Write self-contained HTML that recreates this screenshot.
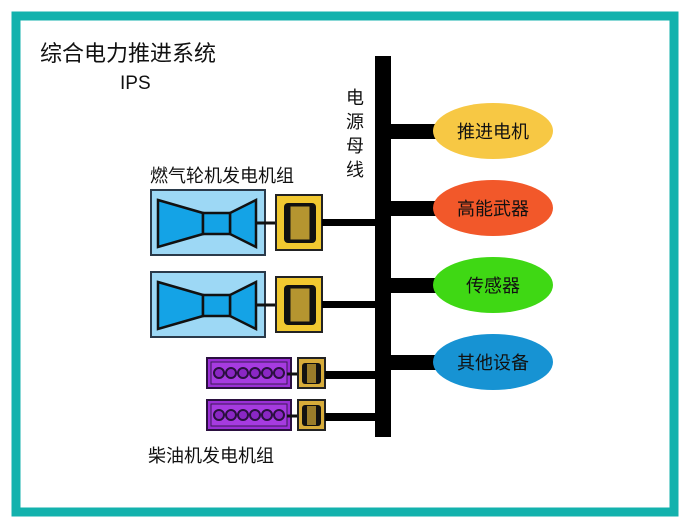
<!DOCTYPE html>
<html><head><meta charset="utf-8"><style>
html,body{margin:0;padding:0;background:#fff;}
svg{display:block;}
text{font-family:"Liberation Sans","Noto Sans CJK SC",sans-serif;}
</style></head><body>
<svg width="690" height="528" viewBox="0 0 690 528">
<rect x="0" y="0" width="690" height="528" fill="#fff"/>
<rect x="16" y="16" width="658" height="496" fill="#fff" stroke="#13b2ad" stroke-width="9"/>
<text x="40" y="61" font-size="22" fill="#111">综合电力推进系统</text>
<text x="120" y="89" font-size="19" fill="#111">IPS</text>
<g font-size="18" fill="#111">
<text x="346" y="104">电</text><text x="346" y="128">源</text><text x="346" y="152">母</text><text x="346" y="176">线</text>
</g>
<text x="150" y="182" font-size="18" fill="#111">燃气轮机发电机组</text>
<text x="148" y="462" font-size="18" fill="#111">柴油机发电机组</text>
<!-- bus -->
<rect x="375" y="56" width="16" height="381" fill="#000"/>
<rect x="391" y="124" width="52" height="15" fill="#000"/>
<rect x="391" y="201" width="52" height="15" fill="#000"/>
<rect x="391" y="278" width="52" height="15" fill="#000"/>
<rect x="391" y="355" width="52" height="15" fill="#000"/>
<ellipse cx="493" cy="131" rx="60" ry="28" fill="#f7c844"/>
<ellipse cx="493" cy="208" rx="60" ry="28" fill="#f2582a"/>
<ellipse cx="493" cy="285" rx="60" ry="28" fill="#3fd814"/>
<ellipse cx="493" cy="362" rx="60" ry="28" fill="#1793d3"/>
<g font-size="18" fill="#111" text-anchor="middle">
<text x="493" y="138">推进电机</text><text x="493" y="215">高能武器</text><text x="493" y="292">传感器</text><text x="493" y="369">其他设备</text>
</g>
<!-- turbines -->
<g id="t1">
<rect x="151" y="190" width="114" height="65" fill="#9dd8f5" stroke="#2a3a4a" stroke-width="2"/>
<polygon points="158,200 203,213 203,234 158,247" fill="#14a3e6" stroke="#111" stroke-width="2.5"/>
<polygon points="256,200 230,213 230,234 256,247" fill="#14a3e6" stroke="#111" stroke-width="2.5"/>
<rect x="203" y="213" width="27" height="21" fill="#14a3e6" stroke="#111" stroke-width="2.5"/>
<line x1="256" y1="223" x2="285" y2="223" stroke="#111" stroke-width="3"/>
<rect x="276" y="195" width="46" height="55" fill="#f1c830" stroke="#222" stroke-width="2"/>
<rect x="284" y="203" width="32" height="40" rx="4" fill="#111"/>
<rect x="290" y="206" width="20" height="34" fill="#b59530" stroke="#111" stroke-width="1"/>
<rect x="322" y="219" width="54" height="7" fill="#000"/>
</g>
<use href="#t1" transform="translate(0,82)"/>
<!-- diesel -->
<g id="d1">
<rect x="207" y="358" width="84" height="30" fill="#9a2fd6" stroke="#2b1040" stroke-width="2"/>
<rect x="211" y="362" width="76" height="22" fill="#a63be0" stroke="#3a1a55" stroke-width="1"/>
<g fill="#8a27c4" stroke="#2b1040" stroke-width="2">
<circle cx="219" cy="373" r="5"/><circle cx="231" cy="373" r="5"/><circle cx="243" cy="373" r="5"/><circle cx="255" cy="373" r="5"/><circle cx="267" cy="373" r="5"/><circle cx="279" cy="373" r="5"/>
</g>
<line x1="287" y1="374" x2="302" y2="374" stroke="#111" stroke-width="3"/>
<rect x="298" y="358" width="27" height="30" fill="#d7ac3a" stroke="#222" stroke-width="2"/>
<rect x="302" y="363" width="19" height="21" rx="3" fill="#111"/>
<rect x="307" y="364" width="9" height="19" fill="#9a7c2a"/>
<rect x="325" y="371" width="51" height="8" fill="#000"/>
</g>
<use href="#d1" transform="translate(0,42)"/>
</svg>
</body></html>
